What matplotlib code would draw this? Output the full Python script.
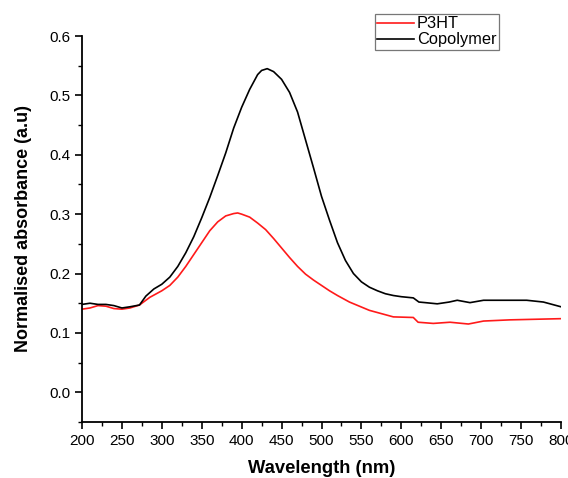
import matplotlib
matplotlib.use("Agg")
import matplotlib.pyplot as plt
from matplotlib.ticker import MultipleLocator, FormatStrFormatter

plt.rcParams["font.family"] = ["Liberation Sans", "DejaVu Sans"]

# wavelength grid (nm) and absorbance
wl_cop = [200, 210, 220, 230, 240, 250, 260, 272, 280, 290, 300, 310, 320,
          330, 340, 350, 360, 370, 380, 390, 400, 410, 420, 425, 432, 440,
          450, 460, 470, 480, 490, 500, 510, 520, 530, 540, 550, 560, 570,
          580, 590, 600, 615, 622, 630, 645, 660, 670, 686, 703, 720, 757,
          778, 800]
copolymer = [0.148, 0.150, 0.148, 0.148, 0.146, 0.142, 0.144, 0.147, 0.162,
             0.174, 0.182, 0.194, 0.212, 0.235, 0.262, 0.294, 0.328, 0.365,
             0.403, 0.445, 0.480, 0.510, 0.535, 0.542, 0.545, 0.540, 0.527,
             0.505, 0.472, 0.425, 0.378, 0.330, 0.290, 0.252, 0.222, 0.200,
             0.186, 0.177, 0.171, 0.166, 0.163, 0.161, 0.159, 0.152, 0.151,
             0.149, 0.152, 0.155, 0.151, 0.155, 0.155, 0.155, 0.152, 0.144]

wl_p3ht = [200, 210, 220, 230, 240, 250, 260, 272, 285, 300, 310, 320, 330,
           340, 350, 360, 370, 380, 390, 395, 400, 410, 420, 430, 440, 450,
           460, 470, 480, 490, 500, 510, 520, 535, 560, 590, 615, 621, 640,
           661, 684, 703, 736, 800]
p3ht = [0.140, 0.142, 0.146, 0.145, 0.141, 0.140, 0.142, 0.147, 0.160, 0.171,
        0.180, 0.194, 0.212, 0.232, 0.252, 0.272, 0.287, 0.297, 0.301, 0.302,
        0.300, 0.295, 0.285, 0.274, 0.259, 0.243, 0.227, 0.212, 0.199, 0.189,
        0.180, 0.171, 0.163, 0.152, 0.138, 0.127, 0.126, 0.118, 0.116, 0.118,
        0.115, 0.120, 0.122, 0.124]

fig = plt.figure(figsize=(5.68, 4.78), dpi=100)
ax = fig.add_axes([82 / 568, 1 - 422 / 478, (561 - 82) / 568, (422 - 36) / 478])

ax.plot(wl_p3ht, p3ht, color="#ff1a1a", lw=1.2, label="P3HT")
ax.plot(wl_cop, copolymer, color="black", lw=1.2, label="Copolymer")

ax.set_xlim(200, 800)
ax.set_ylim(-0.05, 0.6)
ax.xaxis.set_major_locator(MultipleLocator(50))
ax.xaxis.set_minor_locator(MultipleLocator(25))
ax.yaxis.set_major_locator(MultipleLocator(0.1))
ax.yaxis.set_minor_locator(MultipleLocator(0.05))
ax.yaxis.set_major_formatter(FormatStrFormatter("%.1f"))

for s in ("top", "right"):
    ax.spines[s].set_visible(False)
for s in ("left", "bottom"):
    ax.spines[s].set_linewidth(1.3)
ax.tick_params(which="major", direction="out", length=5, width=1.2,
               labelsize=11)
ax.tick_params(which="minor", direction="out", length=3, width=1.0)

ax.set_xlabel("Wavelength (nm)", fontsize=13.2, weight="bold", labelpad=9)
ax.set_ylabel("Normalised absorbance (a.u)", fontsize=13, weight="bold",
              labelpad=12)

leg = ax.legend(loc="upper left", bbox_to_anchor=(375 / 568, 1 - 14 / 478),
                bbox_transform=fig.transFigure, frameon=True, fancybox=False,
                fontsize=11.8, handlelength=2.2, handletextpad=0.2,
                borderpad=0.15, labelspacing=0.05, borderaxespad=0)
leg.get_frame().set_edgecolor("#555555")
leg.get_frame().set_linewidth(0.9)

fig.savefig("out.png", dpi=100)
